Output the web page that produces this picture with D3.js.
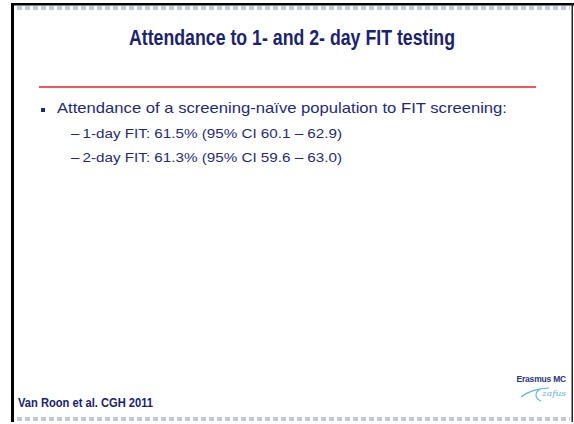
<!DOCTYPE html>
<html>
<head>
<meta charset="utf-8">
<script src="https://cdn.jsdelivr.net/npm/d3@7"></script>
<style>
  html, body { margin: 0; padding: 0; background: #ffffff; }
  svg { display: block; }
</style>
</head>
<body>
<script>
// slide content
var title_text = "Attendance to 1- and 2- day FIT testing";
var bullet_text = "Attendance of a screening-na\u00efve population to FIT screening:";
var test_days = ["1-day FIT", "2-day FIT"];
var attendance = [61.5, 61.3];
var ci_low = [60.1, 59.6];
var ci_high = [62.9, 63.0];
var source_text = "Van Roon et al. CGH 2011";

var w = 574, h = 424;
var navy = "#1b2270";
var text_navy = "#1f2a78";
var dash_color = "#c3c7de";
var font = "Liberation Sans, Arial, sans-serif";

var svg = d3.select("body").append("svg")
    .attr("width", w)
    .attr("height", h);

svg.append("rect").attr("x", 0).attr("y", 0).attr("width", w).attr("height", h)
    .style("fill", "#ffffff");

// frame: black top + left + right edge
svg.append("rect").attr("x", 11).attr("y", 3).attr("width", w - 11).attr("height", 2.5)
    .style("fill", "#000");
svg.append("rect").attr("x", 11).attr("y", 3).attr("width", 3).attr("height", 419)
    .style("fill", "#000");
svg.append("rect").attr("x", 571.5).attr("y", 3).attr("width", 1.5).attr("height", 419)
    .style("fill", "#222");

// dashed bands top and bottom
var place_dashes = function(y){
  svg.append("line")
      .attr("x1", 17).attr("x2", 570)
      .attr("y1", y).attr("y2", y)
      .style("stroke", dash_color)
      .style("stroke-width", 4)
      .style("stroke-dasharray", "5,3");
}
place_dashes(8);
place_dashes(419);

// title
svg.append("text")
    .attr("x", 292).attr("y", 45)
    .attr("text-anchor", "middle")
    .attr("font-family", font)
    .attr("font-weight", "bold")
    .attr("font-size", 21.5)
    .attr("textLength", 326)
    .attr("lengthAdjust", "spacingAndGlyphs")
    .attr("fill", navy)
    .text(title_text);

// red rule
svg.append("line")
    .attr("x1", 39).attr("x2", 536)
    .attr("y1", 87).attr("y2", 87)
    .style("stroke", "#ee1c24")
    .style("stroke-width", 1.6);

// bullet
svg.append("rect").attr("x", 41).attr("y", 108).attr("width", 4).attr("height", 4)
    .style("fill", text_navy);
svg.append("text")
    .attr("x", 57).attr("y", 113)
    .attr("font-family", font)
    .attr("font-size", 14.5)
    .attr("textLength", 450)
    .attr("lengthAdjust", "spacingAndGlyphs")
    .attr("fill", text_navy)
    .text(bullet_text);

// sub bullets built from the data
var sub_lines = test_days.map(function(d, i){
  return "\u2013\u2009" + d + ": " + attendance[i].toFixed(1) + "% (95% CI " +
      ci_low[i].toFixed(1) + " \u2013 " + ci_high[i].toFixed(1) + ")";
});
var y_sub = d3.scalePoint().domain(test_days).range([138, 162]);

svg.selectAll("text.sub").data(test_days).enter().append("text")
    .attr("class", "sub")
    .attr("x", 71)
    .attr("y", function(d){ return y_sub(d); })
    .attr("font-family", font)
    .attr("font-size", 13)
    .attr("textLength", 271)
    .attr("lengthAdjust", "spacingAndGlyphs")
    .attr("fill", text_navy)
    .text(function(d, i){ return sub_lines[i]; });

// source
svg.append("text")
    .attr("x", 18).attr("y", 407)
    .attr("font-family", font)
    .attr("font-weight", "bold")
    .attr("font-size", 12)
    .attr("textLength", 135)
    .attr("lengthAdjust", "spacingAndGlyphs")
    .attr("fill", navy)
    .text(source_text);

// Erasmus MC logo
svg.append("text")
    .attr("x", 566).attr("y", 382)
    .attr("text-anchor", "end")
    .attr("font-family", "Liberation Sans Narrow, " + font)
    .attr("font-weight", "bold")
    .attr("font-size", 8.5)
    .style("letter-spacing", "-0.2px")
    .attr("fill", "#2a3580")
    .text("Erasmus MC");
svg.append("path")
    .attr("d", "M521,397 C527,392 538,388 549,388 M540,389 C535,392 534,398 541,401")
    .style("fill", "none")
    .style("stroke", "#5ab4de")
    .style("stroke-width", 1.1);
svg.append("text")
    .attr("x", 542).attr("y", 396)
    .attr("font-family", "DejaVu Serif, serif")
    .attr("font-style", "italic")
    .attr("font-size", 8)
    .attr("textLength", 24)
    .attr("lengthAdjust", "spacingAndGlyphs")
    .attr("fill", "#5ab4de")
    .text("zafus");
</script>
</body>
</html>
